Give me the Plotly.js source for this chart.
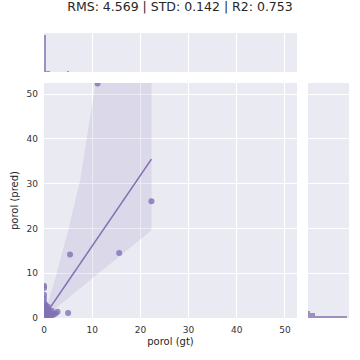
<!DOCTYPE html>
<html>
<head>
<meta charset="utf-8">
<script src="https://cdn.plot.ly/plotly-3.0.1.min.js"></script>
<style>html,body{margin:0;padding:0;background:#fff;}#chart{width:360px;height:360px;}</style>
</head>
<body>
<div id="chart"></div>
<script>
// Scatter data (ground truth vs prediction)
var gt   = [11.1, 22.3, 5.4, 15.6, 5.0, 0.0, 0.0, 0.0, 0.0, 0.0, 0.0, 0.2, 0.5, 0.8, 1.0, 1.3, 1.6, 2.0, 2.4, 2.8, 0.3, 0.6, 1.1, 1.5, 0.1, 0.4, 0.9, 0.0, 0.2, 0.7, 1.2, 1.8, 0.0, 0.3, 0.0, 0.5];
var pred = [52.4, 26.1, 14.2, 14.5, 1.1, 7.2, 6.7, 4.4, 3.6, 2.8, 2.2, 1.5, 1.0, 2.5, 1.8, 1.2, 1.6, 0.8, 1.0, 1.4, 0.6, 0.4, 0.7, 0.3, 1.9, 2.6, 1.3, 1.0, 0.2, 0.1, 0.5, 0.9, 0.4, 3.0, 5.2, 2.0];

// Regression fit line and confidence band
var fitX   = [0, 22.3];
var fitY   = [0.3, 35.5];
var bandX  = [0, 2, 5, 7.5, 9, 10.4, 15, 22.3];
var bandLo = [0.0, 1.8, 4.5, 6.8, 8.0, 9.2, 13.2, 19.6];
var bandHi = [0.8, 7.5, 19.5, 30.8, 41.0, 52.5, 85.0, 130.0];

// Marginal histograms (bin start, counts)
var gtBins    = [0.0, 0.4, 0.8, 4.8, 5.2, 10.8, 15.2, 22.0];
var gtCounts  = [200, 5, 5, 5, 1, 1, 1, 1];
var predBins   = [0.0, 0.55, 1.1, 14.3, 26.0, 52.0];
var predCounts = [200, 36, 11, 2, 1, 1];

var gtBinW = 0.4, predBinW = 0.55;
var purple = '#8172B3';
var W = 360, H = 360;
function px(a, b) { return [a / W, b / W]; }
function py(top, bottom) { return [(H - bottom) / H, (H - top) / H]; }

var traces = [
  { x: bandX, y: bandLo, type: 'scatter', mode: 'lines', line: { width: 0, color: purple }, hoverinfo: 'skip', showlegend: false, xaxis: 'x', yaxis: 'y' },
  { x: bandX, y: bandHi, type: 'scatter', mode: 'lines', fill: 'tonexty', fillcolor: 'rgba(129,114,179,0.15)', line: { width: 0, color: purple }, hoverinfo: 'skip', showlegend: false, xaxis: 'x', yaxis: 'y' },
  { x: gt, y: pred, type: 'scatter', mode: 'markers', marker: { color: purple, opacity: 0.8, size: 6 }, showlegend: false, xaxis: 'x', yaxis: 'y', cliponaxis: true },
  { x: fitX, y: fitY, type: 'scatter', mode: 'lines', line: { color: purple, width: 1.6 }, showlegend: false, xaxis: 'x', yaxis: 'y' },
  { x: gtBins.map(function (b) { return b + gtBinW / 2; }), y: gtCounts, type: 'bar', width: gtBinW, marker: { color: 'rgba(129,114,179,0.75)', line: { width: 0 } }, showlegend: false, xaxis: 'x2', yaxis: 'y2' },
  { y: predBins.map(function (b) { return b + predBinW / 2; }), x: predCounts, type: 'bar', orientation: 'h', width: predBinW, marker: { color: 'rgba(129,114,179,0.75)', line: { width: 0 } }, showlegend: false, xaxis: 'x3', yaxis: 'y3' }
];

var tickFont = { family: 'DejaVu Sans, sans-serif', size: 9, color: '#333333' };
var titleFont = { family: 'DejaVu Sans, sans-serif', size: 10, color: '#262626' };

var layout = {
  width: W, height: H,
  margin: { l: 0, r: 0, t: 0, b: 0 },
  paper_bgcolor: '#ffffff',
  plot_bgcolor: '#EAEAF2',
  bargap: 0,
  showlegend: false,
  title: { text: 'RMS: 4.569 | STD: 0.142 | R2: 0.753', x: 0.5, xanchor: 'center', y: (H - 7) / H, yanchor: 'middle', yref: 'paper', font: { family: 'DejaVu Sans, sans-serif', size: 12.5, color: '#262626' } },
  xaxis: { domain: px(44, 297), range: [0, 52.5], tickvals: [0, 10, 20, 30, 40, 50], showgrid: true, gridcolor: '#ffffff', gridwidth: 1, zeroline: false, showline: false, ticks: '', ticklabelstandoff: 5, tickfont: tickFont, title: { text: 'porol (gt)', font: titleFont, standoff: 3 }, anchor: 'y' },
  yaxis: { domain: py(83, 318), range: [0, 52.5], tickvals: [0, 10, 20, 30, 40, 50], showgrid: true, gridcolor: '#ffffff', gridwidth: 1, zeroline: false, showline: false, ticks: '', ticklabelstandoff: 5, tickfont: tickFont, title: { text: 'porol (pred)', font: titleFont, standoff: 6 }, anchor: 'x' },
  xaxis2: { domain: px(44, 297), range: [0, 52.5], tickvals: [0, 10, 20, 30, 40, 50], showticklabels: false, showgrid: true, gridcolor: '#ffffff', zeroline: false, ticks: '', anchor: 'y2' },
  yaxis2: { domain: py(33, 72), range: [0, 210], showticklabels: false, showgrid: false, zeroline: false, ticks: '', anchor: 'x2' },
  xaxis3: { domain: px(308, 349), range: [0, 212], showticklabels: false, showgrid: false, zeroline: false, ticks: '', anchor: 'y3' },
  yaxis3: { domain: py(83, 318), range: [0, 52.5], tickvals: [0, 10, 20, 30, 40, 50], showticklabels: false, showgrid: true, gridcolor: '#ffffff', zeroline: false, ticks: '', anchor: 'x3' }
};

Plotly.newPlot('chart', traces, layout, { staticPlot: true, displayModeBar: false });
</script>
</body>
</html>
